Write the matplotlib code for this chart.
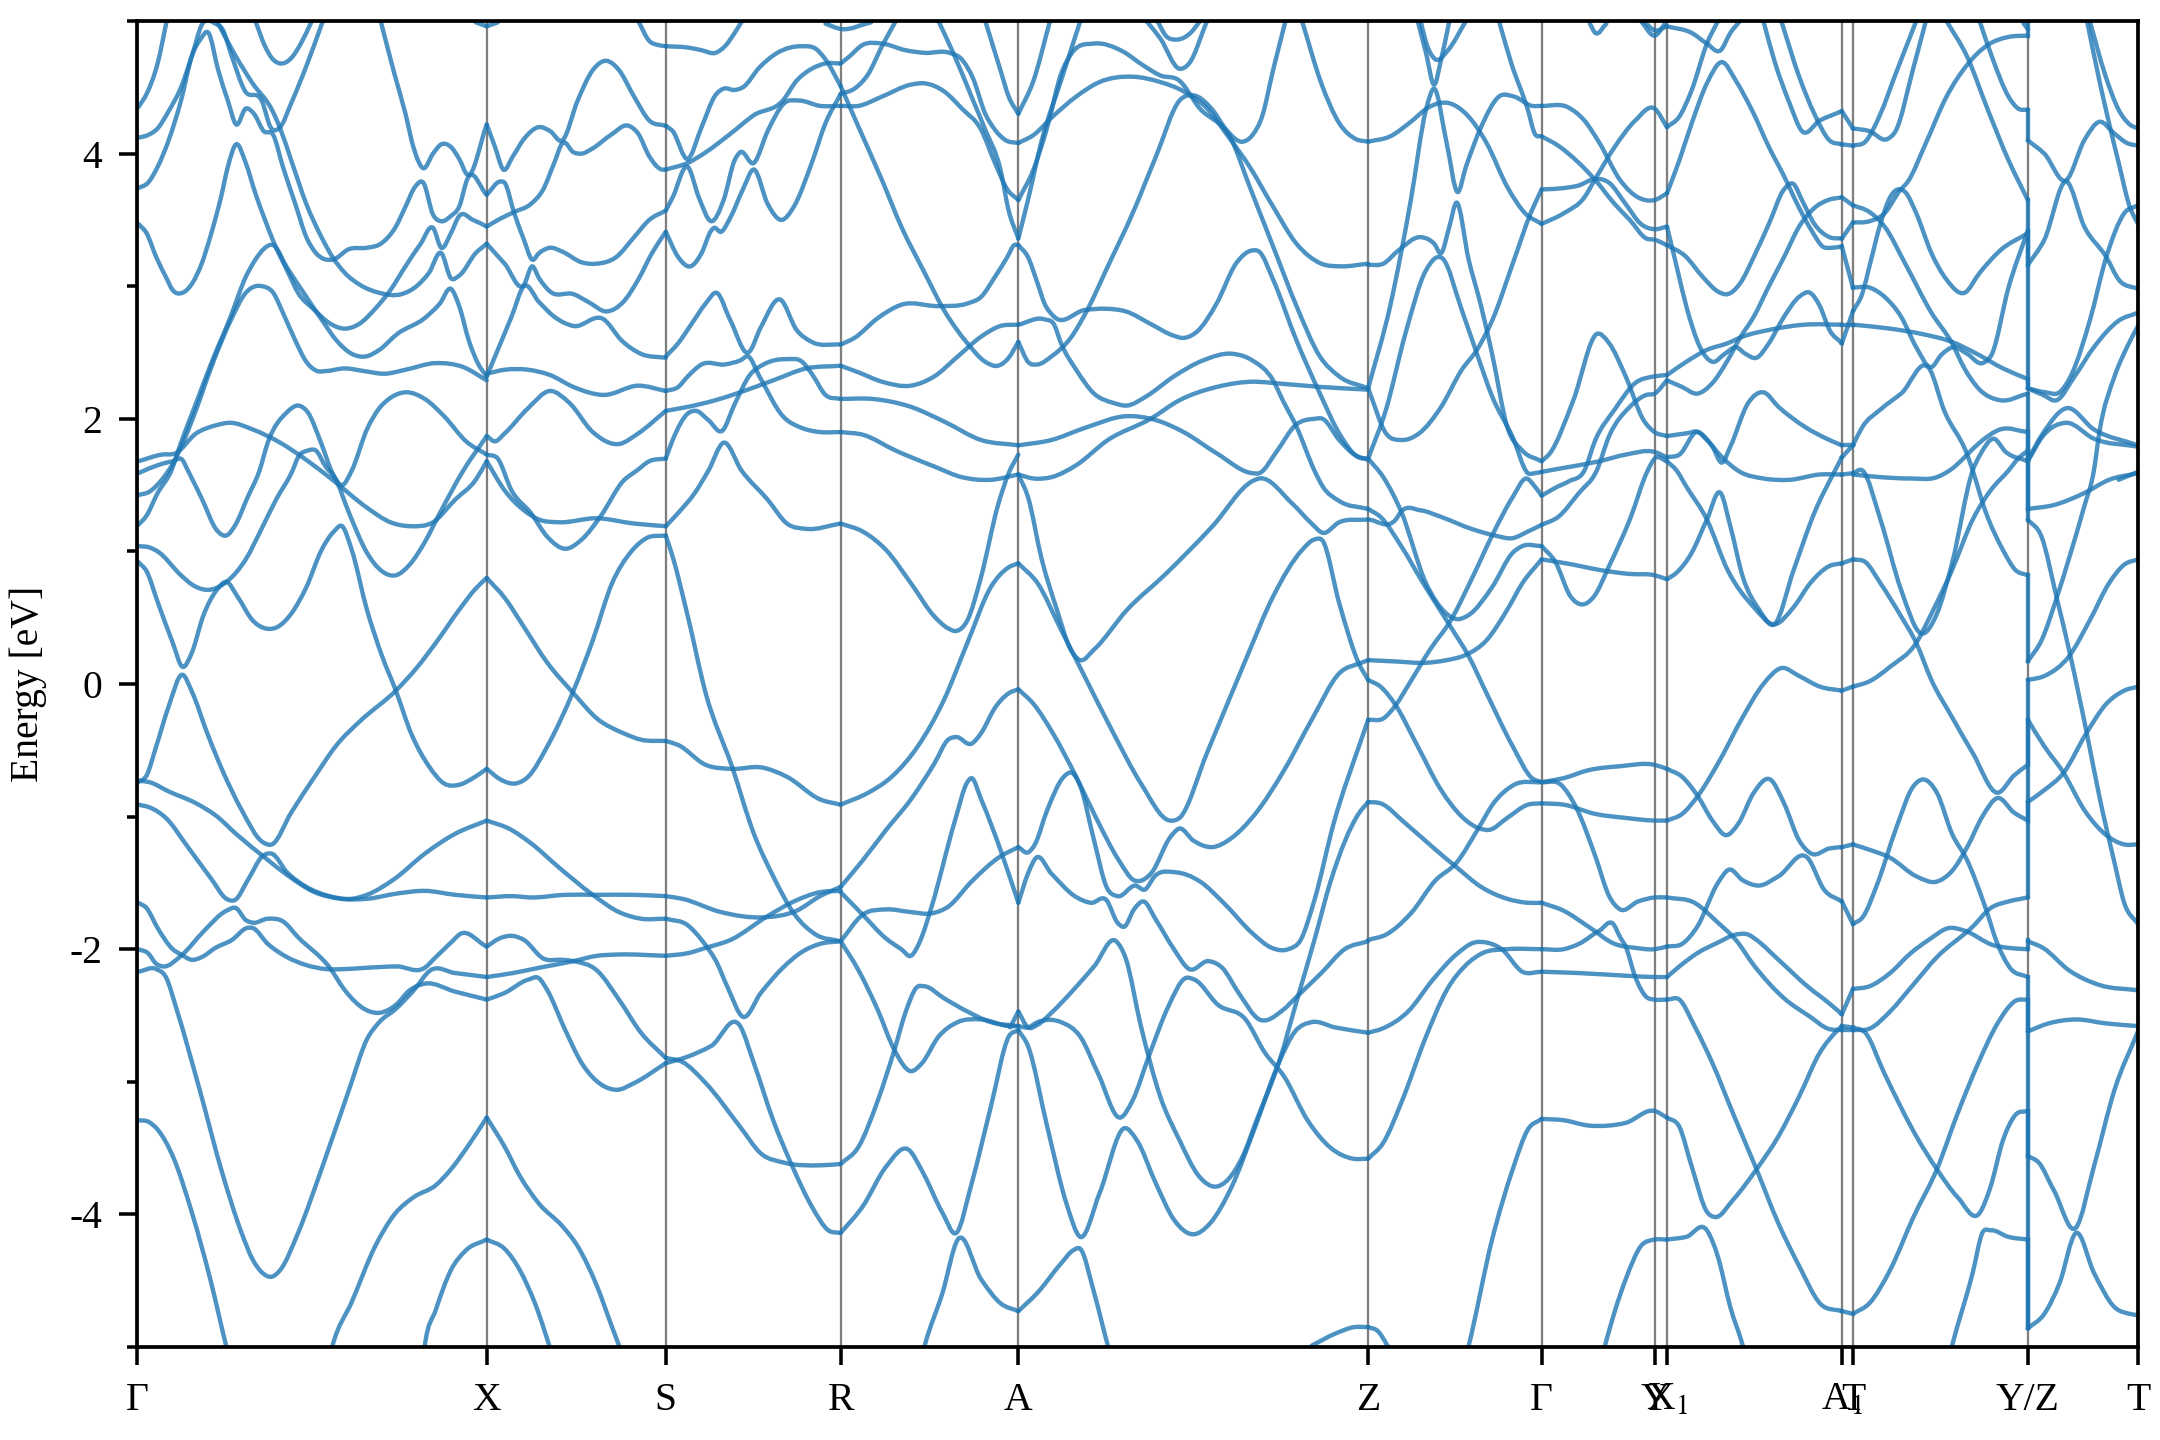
import matplotlib
matplotlib.use('Agg')
import matplotlib.pyplot as plt
import numpy as np
from matplotlib.path import Path
from matplotlib.patches import PathPatch

plt.rcParams['font.family'] = ['Liberation Serif', 'DejaVu Serif']
plt.rcParams['mathtext.fontset'] = 'stix'
plt.rcParams['axes.unicode_minus'] = False

# k-path
tick_k = [0, 254, 384, 511, 640, 894, 1020, 1102, 1111, 1238, 1246, 1373, 1453]
tick_names = ['Γ', 'X', 'S', 'R', 'A', 'Z', 'Γ', 'Y', 'X$_1$', 'A$_1$', 'T', 'Y/Z', 'T']

# Γ -> X
gamma_x = [
    ([1,7,15,22], [4.35,4.45,4.68,5.02]),
    ([1,8,15,23,32,40,47,57,62,69,78,91,97,104,112,123,135], [4.12,4.14,4.19,4.32,4.50,4.74,4.97,4.98,4.94,4.73,4.48,4.39,4.20,4.20,4.38,4.66,5.0]),
    ([1,8,15,23,32,40,46,52,59,66,72,79,85,92,99,106,115,123,130,142,154,167,177,188,195,202,208,215,221,228,234,240,254],
     [3.74,3.78,3.90,4.10,4.40,4.74,4.86,4.91,4.63,4.40,4.22,4.34,4.30,4.17,4.14,3.90,3.62,3.37,3.25,3.20,3.28,3.29,3.32,3.45,3.60,3.75,3.78,3.54,3.49,3.53,3.60,3.81,3.69]),
    ([59,72,84,98,104,112,123,134,142,151,162,176,192,203,212,221,228,234,246,254], [4.98,4.73,4.53,4.33,4.19,3.95,3.62,3.37,3.22,3.10,3.01,2.95,2.94,3.00,3.10,3.25,3.06,3.08,3.25,3.32]),
    ([86,93,98,104,112,119,127], [5.0,4.81,4.72,4.68,4.72,4.83,5.0]),
    ([177,187,195,201,208,215,221,228,234,240,254], [5.0,4.60,4.30,4.04,3.89,4.0,4.07,4.05,3.96,3.84,4.22]),
    ([246,254], [4.99,4.96]),
    ([1,7,14,21,26,33,40,47,54,61,66,72,79,86,93,99,109,117,129,140,151,162,173,184,195,206,215,221,228,234,244,254],
     [3.47,3.40,3.22,3.07,2.97,2.95,3.02,3.17,3.40,3.67,3.90,4.07,3.93,3.70,3.50,3.34,3.12,2.95,2.82,2.72,2.68,2.72,2.83,2.97,3.15,3.32,3.44,3.29,3.40,3.53,3.50,3.45]),
    ([1,9,18,26,33,43,54,68,79,86,91,99,106,115,123,131,137,151,165,180,195,217,237,254], [1.425,1.45,1.54,1.66,1.81,2.07,2.39,2.74,2.95,3.0,3.0,2.95,2.80,2.59,2.43,2.36,2.36,2.38,2.36,2.34,2.37,2.42,2.39,2.29]),
    ([1,7,15,25,32,43,54,68,79,86,92,99,109,123,134,145,156,166,176,189,209,220,228,234,241,248,254],
     [1.2,1.27,1.44,1.61,1.82,2.12,2.42,2.77,3.07,3.20,3.28,3.31,3.14,2.92,2.75,2.59,2.49,2.47,2.52,2.64,2.76,2.87,2.98,2.85,2.59,2.41,2.32]),
    ([1,18,28,43,57,68,84,104,123,142,167,184,199,215,231,246,254], [1.68,1.73,1.74,1.89,1.95,1.97,1.92,1.82,1.69,1.54,1.33,1.22,1.19,1.22,1.39,1.54,1.68]),
    ([1,15,26,33,37,47,58,65,72,80,89,95,109,117,124,134,142,149,156,167,176,183,195,209,223,239,254],
     [1.59,1.65,1.68,1.69,1.61,1.40,1.16,1.12,1.21,1.40,1.61,1.82,2.05,2.10,2.05,1.81,1.59,1.50,1.61,1.92,2.08,2.15,2.2,2.15,2.02,1.83,1.73]),
    ([1,9,15,32,40,51,65,79,90,101,113,117,124,130,137,144,154,167,178,188,198,209,220,237,254],
     [1.04,1.03,1.0,0.82,0.75,0.71,0.77,0.94,1.16,1.39,1.61,1.71,1.76,1.76,1.64,1.55,1.29,0.99,0.85,0.82,0.90,1.07,1.29,1.61,1.87]),
    ([1,7,15,26,33,40,48,58,65,73,84,93,102,112,123,134,143,149,156,167,178,188,199,212,223,234,244,254],
     [0.92,0.85,0.62,0.31,0.13,0.24,0.51,0.71,0.77,0.66,0.48,0.42,0.43,0.53,0.73,1.01,1.15,1.19,1.01,0.56,0.21,-0.05,-0.37,-0.62,-0.75,-0.76,-0.71,-0.64]),
    ([1,7,14,23,33,40,51,62,76,91,98,112,129,145,162,188,203,217,234,246,254], [-0.74,-0.69,-0.47,-0.17,0.07,-0.06,-0.37,-0.65,-0.95,-1.19,-1.21,-0.97,-0.70,-0.46,-0.28,-0.05,0.12,0.31,0.56,0.72,0.80]),
    ([1,9,23,43,57,73,93,109,129,148,167,189,209,231,254], [-0.73,-0.74,-0.81,-0.90,-0.99,-1.14,-1.31,-1.44,-1.57,-1.62,-1.62,-1.58,-1.56,-1.59,-1.61]),
    ([1,9,21,37,54,65,71,81,91,98,109,123,140,156,167,187,209,231,254], [-0.91,-0.93,-1.01,-1.23,-1.47,-1.62,-1.63,-1.47,-1.30,-1.28,-1.42,-1.53,-1.60,-1.62,-1.59,-1.47,-1.28,-1.13,-1.03]),
    ([1,7,15,26,32,40,47,57,69,80,84,95,109,123,137,151,167,189,209,217,230,234,254],
     [-1.65,-1.69,-1.84,-2.0,-2.04,-2.08,-2.06,-1.99,-1.93,-1.84,-1.84,-1.96,-2.06,-2.12,-2.15,-2.15,-2.14,-2.13,-2.14,-2.06,-1.93,-1.89,-1.98]),
    ([1,8,14,19,33,48,65,72,79,84,95,106,117,140,151,165,176,188,198,209,231,254],
     [-2.0,-2.03,-2.11,-2.13,-2.04,-1.87,-1.71,-1.69,-1.78,-1.80,-1.77,-1.79,-1.91,-2.14,-2.31,-2.45,-2.48,-2.42,-2.31,-2.26,-2.32,-2.38]),
    ([1,14,21,29,45,62,76,84,91,98,104,117,134,154,167,176,188,201,213,231,254],
     [-2.17,-2.15,-2.21,-2.46,-3.04,-3.69,-4.14,-4.34,-4.44,-4.47,-4.42,-4.14,-3.66,-3.06,-2.68,-2.55,-2.45,-2.31,-2.16,-2.18,-2.21]),
    ([1,8,15,26,40,54,65,68], [-3.29,-3.30,-3.36,-3.56,-3.99,-4.52,-5.0,-5.12]),
    ([140,142,156,173,187,201,217,228,242,254], [-5.07,-4.99,-4.66,-4.24,-4.0,-3.87,-3.78,-3.66,-3.46,-3.27]),
    ([208,209,217,228,239,254], [-5.07,-4.99,-4.72,-4.42,-4.27,-4.19]),
]

# X -> S
x_s = [
    ([254,260,266,273,281,292,300,309,320,331,341,350,361,372,384], [4.22,4.05,3.88,3.98,4.11,4.20,4.17,4.10,4.40,4.63,4.70,4.63,4.43,4.25,4.21]),
    ([254,264,267,274,281,287,292,300,309,323,334,348,361,372,384], [3.69,3.79,3.78,3.55,3.35,3.20,3.25,3.29,3.26,3.18,3.17,3.22,3.37,3.50,3.57]),
    ([254,264,274,286,295,303,309,317,323,331,344,357,364,372,381,384], [3.45,3.51,3.56,3.62,3.73,3.93,4.08,4.01,4.0,4.04,4.14,4.21,4.15,3.98,3.88,3.88]),
    ([254,267,281,287,292,300,317,328,341,353,364,374,384], [3.32,3.17,3.01,3.15,3.06,2.96,2.94,2.88,2.81,2.88,3.05,3.25,3.41]),
    ([254,262,272,281,292,303,317,339,352,366,384], [2.32,2.52,2.77,3.0,2.88,2.77,2.70,2.75,2.59,2.49,2.46]),
    ([254,267,284,300,317,339,364,384], [2.34,2.37,2.37,2.33,2.24,2.18,2.25,2.21]),
    ([254,260,267,284,300,314,331,350,364,384], [1.87,1.83,1.89,2.08,2.21,2.12,1.90,1.81,1.89,2.06]),
    ([254,267,281,292,306,334,361,384], [1.68,1.46,1.31,1.24,1.22,1.25,1.21,1.19]),
    ([254,262,272,286,298,311,323,337,353,363,372,384], [1.73,1.70,1.46,1.29,1.11,1.02,1.09,1.27,1.53,1.61,1.68,1.70]),
    ([254,267,281,298,317,334,353,366,384], [0.80,0.65,0.43,0.16,-0.07,-0.26,-0.37,-0.42,-0.43]),
    ([254,264,275,284,298,317,331,345,359,370,384], [-0.64,-0.72,-0.75,-0.70,-0.47,-0.05,0.33,0.76,1.0,1.10,1.12]),
    ([254,270,286,306,331,350,366,384], [-1.03,-1.09,-1.2,-1.38,-1.59,-1.72,-1.77,-1.77]),
    ([254,273,286,311,334,361,384], [-1.61,-1.60,-1.61,-1.59,-1.59,-1.59,-1.60]),
    ([254,263,273,281,295,309,317,334,350,366,384], [-1.98,-1.92,-1.90,-1.93,-2.07,-2.08,-2.09,-2.16,-2.38,-2.63,-2.82]),
    ([254,273,292,317,334,350,384], [-2.21,-2.18,-2.14,-2.09,-2.05,-2.04,-2.05]),
    ([254,267,284,292,298,311,323,337,349,361,384], [-2.38,-2.33,-2.23,-2.22,-2.31,-2.61,-2.86,-3.02,-3.06,-3.01,-2.86]),
    ([254,267,278,292,309,320,334,345,353], [-3.27,-3.49,-3.71,-3.92,-4.09,-4.24,-4.54,-4.85,-5.07]),
    ([254,267,278,289,302], [-4.19,-4.26,-4.42,-4.67,-5.07]),
    ([254,262], [4.96,4.99]),
    ([364,372,378,384], [5.0,4.85,4.82,4.81]),
]

# S -> R
s_r = [
    ([384,400,410,420,427,434,440], [4.81,4.80,4.78,4.76,4.81,4.91,5.01]),
    ([384,389,400,410,420,426,434,440,452,465,483,493,500,511], [4.21,4.17,3.96,4.20,4.44,4.49,4.48,4.50,4.65,4.76,4.81,4.79,4.71,4.51]),
    ([384,400,413,431,448,469,479,490,500,511], [3.88,3.93,4.01,4.15,4.29,4.40,4.55,4.64,4.68,4.68]),
    ([384,389,400,408,417,426,434,438,448,458,470,481,496,511], [3.57,3.67,3.90,3.67,3.49,3.65,3.95,4.01,3.93,4.17,4.38,4.40,4.36,4.36]),
    ([384,393,402,410,417,419,424,431,440,448,458,468,477,490,500,511], [3.41,3.22,3.15,3.25,3.42,3.44,3.41,3.52,3.73,3.88,3.62,3.50,3.60,3.93,4.23,4.45]),
    ([384,393,403,413,421,431,444,453,467,479,490,511], [2.47,2.57,2.72,2.87,2.95,2.74,2.50,2.69,2.90,2.67,2.58,2.56]),
    ([384,393,400,410,427,438,444,452,469,483,496,511], [2.21,2.24,2.32,2.41,2.41,2.44,2.47,2.32,2.02,1.93,1.90,1.90]),
    ([384,400,420,438,462,486,511], [2.06,2.09,2.14,2.20,2.29,2.38,2.40]),
    ([384,389,400,406,415,425,434,445,455,472,483,490,500,511], [1.70,1.84,2.04,2.06,1.99,1.91,2.11,2.33,2.41,2.45,2.43,2.34,2.18,2.15]),
    ([384,393,405,415,426,439,458,472,486,511], [1.19,1.29,1.44,1.61,1.82,1.61,1.39,1.21,1.17,1.21]),
    ([384,389,400,413,432,448,462,477,493,511], [1.12,0.96,0.51,-0.07,-0.62,-1.13,-1.45,-1.73,-1.89,-1.94]),
    ([384,393,413,432,454,472,496,511], [-0.43,-0.46,-0.61,-0.64,-0.63,-0.70,-0.87,-0.91]),
    ([384,396,424,454,479,496,511], [-1.60,-1.62,-1.72,-1.76,-1.71,-1.60,-1.53]),
    ([384,400,410,415,420,429,440,453,469,483,496,511], [-1.77,-1.82,-1.93,-2.0,-2.08,-2.29,-2.51,-2.33,-2.14,-2.02,-1.96,-1.94]),
    ([384,400,413,431,458,477,496,511], [-2.05,-2.03,-1.99,-1.93,-1.75,-1.64,-1.57,-1.56]),
    ([384,400,417,438,448,462,476,490,502,511], [-2.86,-2.81,-2.73,-2.58,-2.86,-3.29,-3.64,-3.94,-4.12,-4.14]),
    ([384,396,413,438,453,470,496,511], [-2.82,-2.85,-3.01,-3.34,-3.54,-3.61,-3.63,-3.62]),
]

# R -> A
r_a = [
    ([500,511,533], [4.98,4.94,4.99]),
    ([511,517,527,541,558,572,590,599,607,616,623,631,640], [4.68,4.73,4.82,4.83,4.78,4.76,4.76,4.71,4.57,4.30,4.18,4.10,4.08]),
    ([511,521,531,541,551], [4.45,4.49,4.60,4.81,5.0]),
    ([511,524,541,562,572,586,599,613,623,632,640], [4.36,4.36,4.43,4.52,4.53,4.47,4.34,4.18,3.93,3.73,3.65]),
    ([511,524,541,555,572,586,603,616,625,633,640], [4.51,4.20,3.80,3.45,3.10,2.82,2.57,2.43,2.40,2.46,2.58]),
    ([582,594,606,616,627,633,640], [5.0,4.73,4.43,4.18,3.88,3.57,3.36]),
    ([616,627,633,640], [5.0,4.63,4.43,4.30]),
    ([511,521,538,555,582,603,613,623,632,637,640], [2.56,2.61,2.76,2.86,2.85,2.87,2.92,3.07,3.22,3.31,3.31]),
    ([511,524,541,562,579,596,613,627,640], [2.40,2.35,2.28,2.25,2.32,2.47,2.62,2.70,2.71]),
    ([511,534,562,586,613,640], [2.15,2.15,2.09,1.98,1.84,1.80]),
    ([511,527,551,579,599,620,640], [1.90,1.88,1.76,1.64,1.56,1.54,1.58]),
    ([511,531,548,567,586,603,620,633,640], [-0.91,-0.82,-0.70,-0.47,-0.12,0.31,0.73,0.88,0.91]),
    ([511,527,544,562,579,589,595,603,613,625,633,640], [1.21,1.15,1.01,0.76,0.51,0.42,0.40,0.48,0.81,1.34,1.59,1.73]),
    ([511,527,544,562,579,589,595,606,613,623,633,640], [-1.53,-1.33,-1.10,-0.87,-0.60,-0.42,-0.40,-0.45,-0.37,-0.18,-0.07,-0.04]),
    ([511,527,544,555,562,569,577,594,603,606,613,627,640], [-1.57,-1.74,-1.92,-2.0,-2.05,-1.93,-1.68,-1.03,-0.74,-0.71,-0.87,-1.25,-1.65]),
    ([511,527,544,562,577,589,606,627,640], [-1.94,-1.74,-1.70,-1.72,-1.73,-1.68,-1.49,-1.30,-1.23]),
    ([511,524,538,550,562,570,582,596,613,633,640], [-1.94,-2.16,-2.46,-2.76,-2.92,-2.86,-2.66,-2.55,-2.53,-2.58,-2.58]),
    ([511,527,544,560,571,585,595,606,620,633,640], [-4.14,-3.94,-3.64,-3.51,-3.69,-3.99,-4.14,-3.77,-3.19,-2.66,-2.61]),
    ([570,572,585,596,613,627,640], [-5.07,-4.99,-4.59,-4.19,-4.49,-4.67,-4.73]),
    ([511,524,538,550,558,566,572,586,603,620,640], [-3.62,-3.49,-3.14,-2.76,-2.48,-2.29,-2.28,-2.37,-2.47,-2.55,-2.58]),
    ([634,640], [-2.59,-2.47]),
]

# A -> Z
a_z = [
    ([640,651,663], [4.30,4.55,5.0]),
    ([640,651,665,682,699,723,743,760,778,791,808,825,842,860,874,894], [4.08,4.14,4.28,4.43,4.54,4.58,4.54,4.47,4.33,4.15,3.90,3.60,3.32,3.17,3.15,3.17]),
    ([640,651,661,671,679,695,716,730,743,757,771,795,808,825,842,859,873,894], [3.65,3.88,4.20,4.60,4.76,4.83,4.77,4.67,4.59,4.55,4.35,4.10,3.75,3.30,2.85,2.47,2.32,2.23]),
    ([640,647,657,671,685], [3.36,3.65,4.10,4.55,5.0]),
    ([733,743,757,764,777], [5.0,4.87,4.64,4.68,5.0]),
    ([741,747,755,765,772], [5.0,4.89,4.86,4.91,5.0]),
    ([640,647,654,659,666,688,704,718,737,752,760,770,784,798,810,815,825,842,859,873,887,894],
     [3.31,3.22,3.02,2.87,2.77,2.82,2.83,2.81,2.71,2.63,2.61,2.66,2.87,3.17,3.27,3.26,3.05,2.59,2.19,1.89,1.71,1.70]),
    ([640,647,654,664,678,690,705,723,740,757,767,781,791,803,810,817,825,834], [2.58,2.43,2.41,2.47,2.61,2.82,3.15,3.55,3.98,4.40,4.44,4.33,4.18,4.09,4.14,4.28,4.63,5.0]),
    ([846,860,873,885,894], [5.0,4.53,4.23,4.11,4.09]),
    ([640,659,666,671,682,695,709,719,733,753,774,796,810,825,832,842,855,861,873,894],
     [2.71,2.75,2.71,2.57,2.37,2.19,2.12,2.10,2.17,2.32,2.44,2.49,2.44,2.29,2.14,1.94,1.61,1.49,1.38,1.32]),
    ([640,664,688,719,740,760,784,810,815,828,841,855,861,873,884,894], [1.80,1.84,1.93,2.02,1.99,1.90,1.74,1.59,1.59,1.76,1.95,2.0,2.0,1.84,1.73,1.69]),
    ([640,651,664,682,705,736,757,784,812,825,860,894], [1.58,1.55,1.56,1.65,1.84,2.0,2.14,2.24,2.28,2.27,2.24,2.22]),
    ([640,654,671,688,709,729,750,757,777,805,825,846,855,861,873,887,894], [0.91,0.76,0.41,0.06,-0.37,-0.75,-1.03,-1.01,-0.52,0.18,0.66,1.01,1.09,1.08,0.61,0.16,0.03]),
    ([640,647,657,668,678,685,695,719,747,781,810,815,839,853,861,873,894], [1.58,1.41,0.94,0.56,0.26,0.18,0.26,0.56,0.83,1.19,1.53,1.55,1.36,1.21,1.14,1.22,1.24]),
    ([640,651,665,682,696,713,724,730,737,750,757,767,781,795,812,833,853,873,889,894],
     [-0.04,-0.15,-0.37,-0.70,-1.0,-1.33,-1.48,-1.48,-1.42,-1.16,-1.09,-1.18,-1.23,-1.16,-0.98,-0.65,-0.27,0.08,0.16,0.18]),
    ([640,647,652,661,673,679,685,695,704,712,725,732,739,754,772,789,810,824,836,845,855,869,889,894],
     [-1.23,-1.27,-1.21,-0.95,-0.70,-0.67,-0.77,-1.18,-1.53,-1.60,-1.52,-1.55,-1.45,-1.42,-1.49,-1.65,-1.88,-1.99,-2.0,-1.93,-1.63,-1.05,-0.42,-0.27]),
    ([640,647,653,664,681,693,704,712,717,724,731,740,753,764,778,788,800,815,832,842,860,877,894],
     [-1.65,-1.43,-1.31,-1.43,-1.60,-1.65,-1.63,-1.80,-1.83,-1.70,-1.64,-1.78,-2.0,-2.15,-2.09,-2.14,-2.33,-2.53,-2.46,-2.36,-2.18,-2.0,-1.94]),
    ([640,647,654,671,685,698,714,723,735,749,761,768,785,805,819,833,850,867,883,894],
     [-2.58,-2.59,-2.55,-2.55,-2.66,-2.94,-3.27,-3.14,-2.80,-2.43,-2.22,-2.23,-2.42,-2.53,-2.78,-2.96,-3.29,-3.50,-3.58,-3.58]),
    ([640,647,661,675,685,699,717,726,740,753,767,779,795,812,829,841,853,870,894],
     [-2.61,-2.73,-3.34,-3.92,-4.17,-3.84,-3.35,-3.44,-3.77,-4.04,-4.15,-4.07,-3.79,-3.34,-2.86,-2.62,-2.55,-2.59,-2.63]),
    ([640,647,654,664,678,695,711,718,729,743,757,771,784,791,803,813,829,843,855,867,887,894],
     [-2.47,-2.59,-2.57,-2.48,-2.33,-2.13,-1.94,-2.07,-2.58,-3.11,-3.44,-3.71,-3.79,-3.75,-3.56,-3.29,-2.86,-2.36,-1.93,-1.48,-0.98,-0.89]),
    ([640,654,671,680,685,695,705,708], [-4.73,-4.59,-4.37,-4.27,-4.26,-4.59,-4.99,-5.1]),
    ([853,870,884,894], [-4.99,-4.90,-4.85,-4.85]),
]

# Z -> Γ
z_gamma = [
    ([894,910,925,938,953,966,980,995,1008,1020], [4.09,4.13,4.24,4.35,4.38,4.29,4.08,3.75,3.55,3.47]),
    ([894,907,918,931,947,962,973,984,1000,1012,1020], [2.23,1.89,1.84,1.89,2.09,2.37,2.52,2.74,3.20,3.55,3.73]),
    ([930,936,942,947,953], [5.0,4.76,4.52,4.71,5.0]),
    ([932,937,943,952,965], [5.0,4.81,4.71,4.78,5.0]),
    ([894,910,925,936,942,951,959,965,976,989,1000,1013,1020], [2.23,2.85,3.65,4.33,4.49,4.08,3.71,3.90,4.20,4.43,4.43,4.36,4.36]),
    ([894,905,916,932,942,947,953,958,967,976,984,995,1006,1020], [3.16,3.17,3.27,3.37,3.32,3.25,3.45,3.63,3.20,2.85,2.49,1.94,1.76,1.68]),
    ([894,907,921,936,948,962,973,984,999,1010,1015,1020], [1.70,2.07,2.64,3.12,3.21,2.82,2.49,2.17,1.86,1.59,1.59,1.60]),
    ([894,914,918,932,947,969,986,999,1010,1020], [1.24,1.24,1.30,1.31,1.26,1.17,1.12,1.10,1.15,1.20]),
    ([894,903,918,934,954,967,980,999,1013,1020], [1.32,1.26,1.04,0.76,0.43,0.21,-0.07,-0.47,-0.71,-0.74]),
    ([894,903,914,929,947,962,975,982,995,1010,1020], [0.03,-0.02,-0.16,-0.45,-0.8,-1.0,-1.09,-1.1,-1.01,-0.91,-0.90]),
    ([894,914,936,951,965,980,995,1006,1020], [0.18,0.17,0.16,0.18,0.22,0.33,0.56,0.76,0.94]),
    ([894,905,918,936,951,958,967,984,999,1006,1020], [1.70,1.56,1.30,0.76,0.53,0.49,0.52,0.73,0.99,1.04,1.04]),
    ([894,905,914,924,939,954,970,985,999,1009,1015,1020], [-0.27,-0.26,-0.16,0.005,0.26,0.48,0.81,1.14,1.41,1.55,1.49,1.42]),
    ([894,903,921,943,958,976,995,1010,1020], [-0.89,-0.9,-1.05,-1.25,-1.38,-1.53,-1.62,-1.65,-1.65]),
    ([894,907,925,943,958,974,985,1000,1020], [-1.93,-1.89,-1.73,-1.48,-1.35,-1.09,-0.90,-0.76,-0.74]),
    ([894,904,923,941,958,971,980,991,1006,1020], [-2.63,-2.60,-2.47,-2.23,-2.04,-1.95,-1.95,-2.0,-2.17,-2.17]),
    ([894,905,918,936,951,966,977,995,1020], [-3.58,-3.46,-3.16,-2.66,-2.31,-2.11,-2.03,-2.0,-2.0]),
    ([894,901,908,912], [-4.85,-4.88,-4.99,-5.07]),
    ([965,967,984,999,1010,1020], [-5.07,-4.99,-4.19,-3.66,-3.36,-3.28]),
    ([989,998,1010,1015,1020], [5.0,4.68,4.33,4.15,4.13]),
]

# Γ -> Y -> X1
gamma_y_x1 = [
    ([1020,1039,1051,1062,1077,1090,1102,1111], [4.36,4.35,4.25,4.08,3.80,3.67,3.65,3.70]),
    ([1020,1032,1047,1059,1073,1084,1096,1102,1111], [4.13,4.06,3.93,3.80,3.62,3.50,3.36,3.35,3.31]),
    ([1020,1036,1047,1059,1069,1081,1092,1102,1111], [3.73,3.74,3.76,3.81,3.78,3.62,3.47,3.43,3.45]),
    ([1020,1036,1051,1059,1073,1088,1102,1111], [3.47,3.55,3.67,3.81,4.05,4.25,4.34,4.20]),
    ([1020,1036,1062,1081,1102,1111], [1.60,1.63,1.68,1.73,1.75,1.71]),
    ([1020,1026,1043,1060,1069,1081,1094,1102,1111], [1.68,1.74,2.14,2.64,2.57,2.32,1.99,1.90,1.87]),
    ([1020,1032,1047,1060,1069,1084,1096,1102,1111], [1.20,1.26,1.44,1.61,1.87,2.09,2.18,2.19,2.29]),
    ([1020,1030,1040,1051,1059,1073,1088,1102,1111], [1.42,1.48,1.53,1.61,1.84,2.07,2.27,2.32,2.33]),
    ([1020,1030,1041,1049,1058,1069,1084,1097,1102,1111], [1.04,0.92,0.66,0.60,0.66,0.89,1.24,1.61,1.70,1.68]),
    ([1020,1043,1062,1084,1102,1111], [0.94,0.90,0.86,0.83,0.82,0.79]),
    ([1020,1036,1054,1077,1102,1111], [-0.74,-0.71,-0.65,-0.62,-0.61,-0.64]),
    ([1020,1034,1045,1059,1069,1077,1090,1102,1111], [-0.74,-0.76,-0.93,-1.30,-1.60,-1.70,-1.64,-1.61,-1.61]),
    ([1020,1036,1059,1081,1102,1111], [-0.90,-0.91,-0.98,-1.01,-1.03,-1.03]),
    ([1020,1036,1054,1073,1088,1102,1111], [-1.65,-1.71,-1.83,-1.96,-1.99,-2.0,-1.98]),
    ([1020,1036,1047,1062,1072,1077,1081,1088,1096,1102,1111], [-2.0,-2.0,-1.96,-1.86,-1.81,-1.91,-1.98,-2.21,-2.36,-2.38,-2.38]),
    ([1020,1047,1081,1102,1111], [-2.17,-2.18,-2.20,-2.21,-2.21]),
    ([1020,1036,1054,1069,1081,1102,1111], [-3.28,-3.29,-3.33,-3.33,-3.31,-3.22,-3.27]),
    ([1064,1066,1081,1092,1102,1111], [-5.07,-4.99,-4.49,-4.24,-4.19,-4.19]),
    ([1055,1059,1067], [4.98,4.91,4.98]),
    ([1092,1102,1111], [5.0,4.89,5.0]),
    ([1094,1102,1111], [5.0,4.93,4.96]),
]

# X1 -> A1
x1_a1 = [
    ([1111,1129,1140,1150,1157,1164], [4.96,4.91,4.83,4.78,4.91,5.0]),
    ([1111,1120,1129,1140,1148], [4.20,4.28,4.48,4.83,5.0]),
    ([1111,1120,1129,1140,1151,1161,1174,1185,1196,1207,1216,1224,1231,1238], [3.70,3.95,4.23,4.53,4.69,4.55,4.30,4.05,3.83,3.59,3.42,3.30,3.29,3.30]),
    ([1111,1118,1125,1135,1144,1153,1161,1168,1176,1185,1196,1207,1215,1222,1229,1238], [3.45,3.15,2.85,2.54,2.43,2.49,2.54,2.49,2.46,2.57,2.77,2.92,2.95,2.85,2.67,2.57]),
    ([1111,1124,1137,1148,1155,1164,1174,1185,1196,1203,1209,1218,1229,1238], [3.31,3.23,3.07,2.96,2.94,3.02,3.22,3.47,3.73,3.77,3.65,3.47,3.37,3.36]),
    ([1111,1125,1140,1155,1166,1185,1211,1238], [2.33,2.43,2.52,2.57,2.62,2.67,2.71,2.71]),
    ([1111,1122,1133,1144,1155,1164,1174,1185,1196,1207,1218,1228,1238], [2.29,2.24,2.19,2.27,2.44,2.61,2.77,3.0,3.22,3.45,3.59,3.65,3.67]),
    ([1111,1125,1134,1144,1151,1157,1170,1181,1192,1211,1229,1238], [1.87,1.89,1.90,1.79,1.67,1.79,2.12,2.20,2.09,1.94,1.84,1.80]),
    ([1111,1120,1133,1140,1151,1164,1181,1200,1222,1238], [1.71,1.73,1.90,1.84,1.71,1.60,1.55,1.54,1.58,1.58]),
    ([1111,1118,1125,1140,1155,1174,1189,1203,1215,1229,1238], [1.68,1.61,1.49,1.24,0.86,0.58,0.45,0.58,0.76,0.89,0.91]),
    ([1111,1118,1129,1140,1150,1157,1166,1178,1189,1203,1218,1233,1238], [0.79,0.84,0.99,1.24,1.44,1.19,0.81,0.56,0.45,0.86,1.29,1.61,1.71]),
    ([1111,1122,1133,1148,1166,1181,1194,1207,1222,1238], [-1.03,-0.98,-0.85,-0.6,-0.25,0.0,0.12,0.06,-0.02,-0.05]),
    ([1111,1122,1133,1144,1154,1163,1174,1186,1196,1207,1216,1229,1238], [-0.64,-0.70,-0.84,-1.03,-1.14,-1.05,-0.82,-0.72,-0.90,-1.18,-1.28,-1.24,-1.23]),
    ([1111,1131,1148,1161,1174,1196,1215,1228,1238], [-1.61,-1.65,-1.80,-1.93,-2.12,-2.37,-2.51,-2.60,-2.61]),
    ([1111,1120,1133,1148,1161,1170,1176,1192,1213,1229,1238], [-2.21,-2.13,-2.03,-1.95,-1.89,-1.89,-1.93,-2.08,-2.28,-2.41,-2.49]),
    ([1111,1120,1131,1144,1159,1176,1192,1207,1222,1238], [-2.38,-2.38,-2.58,-2.86,-3.24,-3.66,-4.07,-4.39,-4.67,-4.73]),
    ([1111,1120,1129,1140,1146,1159,1176,1192,1207,1222,1235,1238], [-3.27,-3.34,-3.64,-3.98,-4.02,-3.89,-3.66,-3.41,-3.11,-2.78,-2.61,-2.58]),
    ([1111,1125,1140,1148,1157,1166,1168], [-4.19,-4.17,-4.12,-4.32,-4.70,-4.99,-5.07]),
    ([1111,1122,1133,1148,1156,1166,1178,1192,1213,1225,1238], [-1.98,-1.96,-1.83,-1.50,-1.40,-1.48,-1.52,-1.45,-1.31,-1.55,-1.64]),
    ([1181,1189,1200,1209,1222,1238], [5.0,4.70,4.38,4.17,4.25,4.32]),
    ([1194,1207,1218,1229,1238], [5.0,4.58,4.30,4.10,4.07]),
]

# A1 -> T, short piece: energies at both ends
a1_values = [4.32,4.07,3.67,3.36,3.30,2.57,2.71,1.80,1.71,1.58,0.91,-0.05,-1.23,-1.64,-2.61,-2.49,-2.58,-4.73]
t_values = [4.19,4.06,3.61,3.48,2.99,2.81,2.71,1.80,1.80,1.59,0.94,-0.02,-1.21,-1.81,-2.61,-2.30,-2.59,-4.75]

# T -> Y
t_y = [
    ([1246,1258,1271,1277,1290,1299], [4.19,4.17,4.11,4.17,4.65,5.0]),
    ([1246,1255,1266,1277,1292], [4.06,4.09,4.30,4.60,5.0]),
    ([1246,1258,1269,1284,1303,1318,1327,1338,1353,1373], [3.61,3.56,3.45,3.17,2.80,2.57,2.38,2.22,2.14,2.19]),
    ([1246,1253,1258,1266,1273,1284,1292,1303,1314,1327,1338,1353,1373], [2.81,2.95,3.15,3.47,3.67,3.71,3.55,3.25,3.05,2.95,3.10,3.27,3.40]),
    ([1246,1258,1269,1280,1286,1299,1314,1329,1344,1359,1373], [3.48,3.49,3.55,3.72,3.79,4.08,4.43,4.67,4.82,4.88,4.89]),
    ([1246,1258,1269,1281,1292,1303,1310,1319,1329,1340,1347,1359,1373], [2.99,2.99,2.92,2.77,2.54,2.39,2.48,2.54,2.49,2.42,2.49,2.99,3.42]),
    ([1246,1273,1296,1318,1336,1355,1373], [2.71,2.68,2.64,2.58,2.49,2.38,2.30]),
    ([1314,1329,1344,1359,1373], [5.0,4.73,4.33,3.95,3.65]),
    ([1338,1348,1359,1366,1373], [5.0,4.70,4.43,4.34,4.33]),
    ([1370,1373], [4.98,4.94]),
    ([1246,1255,1266,1281,1292,1303,1318,1333,1351,1363,1373], [0.94,0.92,0.76,0.51,0.31,0.03,-0.25,-0.52,-0.82,-0.69,-0.61]),
    ([1246,1258,1273,1292,1303,1318,1333,1346,1359,1366,1373], [-0.02,0.02,0.13,0.31,0.53,0.86,1.24,1.46,1.61,1.70,1.76]),
    ([1246,1253,1266,1281,1302,1312,1329,1333,1342,1355,1364,1373], [1.80,1.94,2.07,2.19,2.37,2.07,1.73,1.61,1.31,1.01,0.86,0.82]),
    ([1246,1266,1288,1307,1320,1329,1338,1353,1373], [1.58,1.56,1.55,1.56,1.64,1.73,1.82,1.92,1.90]),
    ([1246,1253,1266,1281,1296,1307,1318,1333,1339,1348,1357,1373], [1.59,1.61,1.24,0.71,0.38,0.53,0.91,1.61,1.74,1.85,1.75,1.68]),
    ([1246,1253,1264,1277,1290,1297,1307,1318,1329,1342,1351,1360,1373], [-1.81,-1.76,-1.50,-1.10,-0.77,-0.72,-0.82,-1.13,-1.33,-1.68,-1.96,-2.14,-2.21]),
    ([1246,1258,1273,1292,1307,1318,1329,1340,1351,1363,1373], [-1.21,-1.25,-1.31,-1.45,-1.49,-1.41,-1.23,-1.0,-0.86,-0.97,-1.03]),
    ([1246,1258,1273,1288,1301,1316,1327,1348,1359,1373], [-2.30,-2.28,-2.18,-2.03,-1.93,-1.84,-1.86,-1.97,-1.99,-2.0]),
    ([1246,1258,1273,1288,1307,1333,1346,1359,1373], [-2.61,-2.60,-2.47,-2.29,-2.06,-1.83,-1.69,-1.64,-1.61]),
    ([1246,1255,1269,1292,1307,1322,1338,1346,1355,1364,1373], [-2.59,-2.63,-2.94,-3.41,-3.66,-3.87,-3.99,-3.79,-3.44,-3.25,-3.22]),
    ([1246,1258,1273,1290,1307,1322,1337,1351,1364,1373], [-4.75,-4.67,-4.42,-4.02,-3.66,-3.24,-2.86,-2.56,-2.39,-2.38]),
    ([1316,1318,1333,1340,1346,1359,1373], [-5.07,-4.99,-4.44,-4.14,-4.12,-4.17,-4.19]),
]

# jump at Y/Z: energies on the Y side and on the Z side
y_side = [4.89,4.33,3.65,3.42,2.30,2.19,1.90,1.76,1.68,0.82,-0.61,-1.03,-1.61,-2.0,-2.21,-2.38,-3.22,-4.19]
z_side = [5.2,4.10,3.16,2.23,2.23,1.70,1.69,1.32,1.24,0.17,0.03,-0.27,-0.89,-1.93,-2.62,-3.56,-4.86,-4.86]

# Z -> T
z_t = [
    ([1373,1385,1401,1414,1425,1436,1445,1453], [4.10,4.0,3.80,4.10,4.24,4.15,4.08,4.06]),
    ([1373,1385,1401,1414,1430,1439,1453], [3.16,3.35,3.79,3.45,3.22,3.05,2.98]),
    ([1416,1425,1432,1439,1447,1453], [5.0,4.55,4.23,3.93,3.60,3.47]),
    ([1418,1429,1439,1447,1453], [5.0,4.60,4.33,4.22,4.19]),
    ([1373,1386,1396,1405,1418,1430,1443,1453], [2.23,2.2,2.2,2.34,2.74,3.22,3.55,3.61]),
    ([1373,1384,1394,1407,1421,1439,1453], [2.23,2.18,2.14,2.32,2.54,2.74,2.80]),
    ([1373,1383,1394,1403,1414,1421,1425,1436,1445,1453], [0.17,0.33,0.65,0.95,1.34,1.61,1.90,2.32,2.54,2.70]),
    ([1373,1385,1399,1415,1430,1443,1453], [-0.89,-0.8,-0.67,-0.38,-0.15,-0.05,-0.02]),
    ([1373,1385,1403,1418,1432,1443,1453], [0.03,0.06,0.21,0.48,0.76,0.90,0.94]),
    ([1373,1392,1414,1432,1453], [1.32,1.35,1.44,1.54,1.59]),
    ([1373,1383,1394,1404,1416,1425,1436,1443,1453], [1.24,1.11,0.65,0.21,-0.38,-0.85,-1.35,-1.65,-1.81]),
    ([1373,1385,1399,1414,1430,1443,1453], [-0.27,-0.47,-0.67,-0.95,-1.14,-1.21,-1.21]),
    ([1373,1384,1403,1425,1453], [-1.94,-1.99,-2.16,-2.27,-2.31]),
    ([1373,1388,1408,1430,1453], [-2.62,-2.56,-2.53,-2.56,-2.58]),
    ([1373,1381,1392,1408,1421,1436,1453], [-3.56,-3.61,-3.82,-4.10,-3.64,-3.06,-2.62]),
    ([1373,1385,1396,1408,1421,1436,1447,1453], [-4.86,-4.75,-4.52,-4.14,-4.44,-4.70,-4.75,-4.76]),
    ([1373,1384,1401,1421,1453], [1.69,1.89,2.08,1.92,1.80]),
    ([1373,1384,1401,1421,1453], [1.68,1.87,1.97,1.85,1.79]),
    ([1439,1453], [1.54,1.60]),
]

all_segments = [gamma_x, x_s, s_r, r_a, a_z, z_gamma, gamma_y_x1, x1_a1, t_y, z_t]


def band_path(k, e):
    # smooth curve through the read points
    k = np.array(k, dtype=float)
    e = np.array(e, dtype=float)
    slope = np.gradient(e, k)
    verts = [(k[0], e[0])]
    codes = [Path.MOVETO]
    for i in range(len(k) - 1):
        h = k[i + 1] - k[i]
        verts.append((k[i] + h / 3, e[i] + slope[i] * h / 3))
        verts.append((k[i + 1] - h / 3, e[i + 1] - slope[i + 1] * h / 3))
        verts.append((k[i + 1], e[i + 1]))
        codes += [Path.CURVE4, Path.CURVE4, Path.CURVE4]
    return Path(verts, codes)


fig = plt.figure(figsize=(7.2, 4.8), dpi=300)
ax = fig.add_axes([0.0634, 0.0646, 0.9264, 0.9208])

for x in tick_k:
    ax.axvline(x, color='k', alpha=0.5, lw=0.55, zorder=1)

band_style = dict(fill=False, edgecolor='#1f77b4', alpha=0.8, lw=1.05, capstyle='round', joinstyle='round', zorder=2)
for seg in all_segments:
    for k, e in seg:
        ax.add_patch(PathPatch(band_path(k, e), **band_style))

for e0, e1 in zip(a1_values, t_values):
    ax.plot([1238, 1246], [e0, e1], color='#1f77b4', alpha=0.8, lw=1.05, zorder=2)

for e0, e1 in zip(y_side, z_side):
    ax.plot([1373, 1373], [e0, e1], color='#1f77b4', alpha=0.8, lw=1.05, zorder=2)

ax.set_xlim(0, 1453)
ax.set_ylim(-5, 5)
ax.set_xticks(tick_k)
ax.set_xticklabels(tick_names, fontsize=9.5)
ax.set_yticks([-4, -2, 0, 2, 4])
ax.set_yticks([-5, -3, -1, 1, 3, 5], minor=True)
ax.tick_params(axis='both', which='major', length=4.3, width=0.85, labelsize=9.5, pad=4)
ax.tick_params(axis='y', which='minor', length=2.4, width=0.85)
ax.set_ylabel('Energy [eV]', fontsize=9.5, labelpad=5.3)
for side in ax.spines.values():
    side.set_linewidth(0.9)

plt.savefig('out.png', dpi=300)
